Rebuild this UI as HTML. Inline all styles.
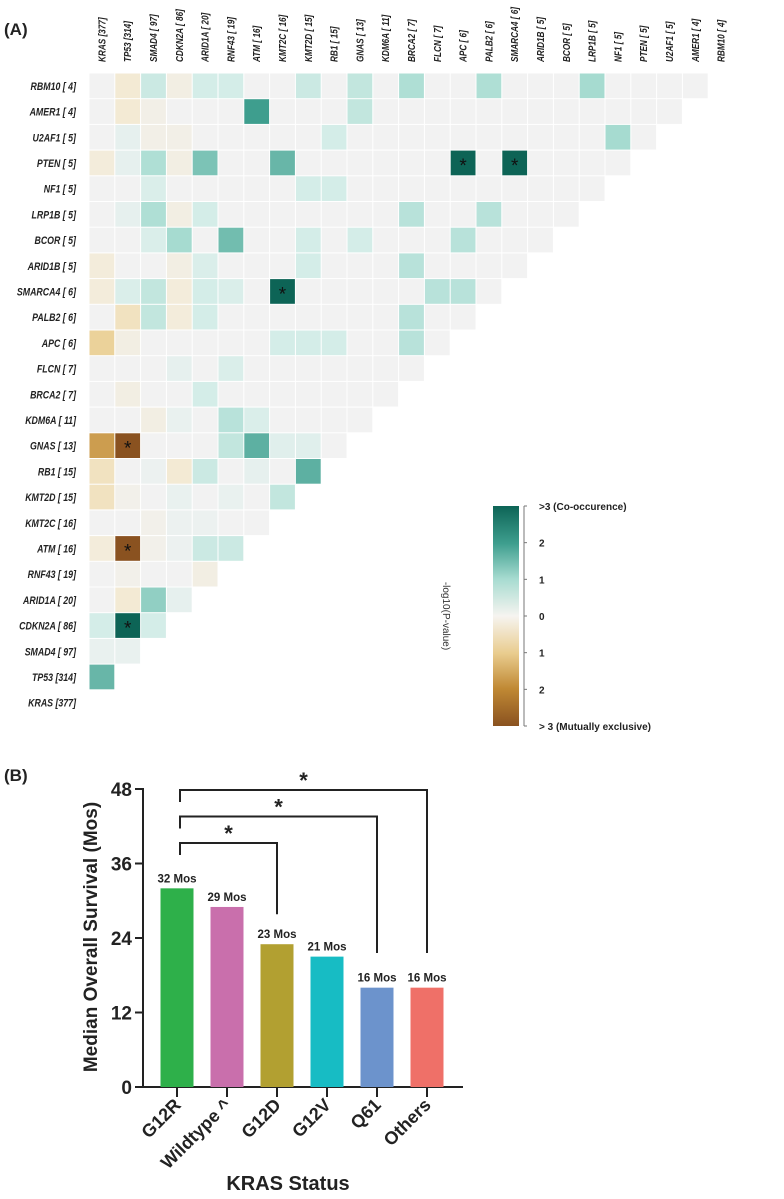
<!DOCTYPE html>
<html><head><meta charset="utf-8"><style>
html,body{margin:0;padding:0;background:#fff;}
svg{display:block;font-family:"Liberation Sans",sans-serif;}
.cl{font-family:"Liberation Sans Narrow","Liberation Sans",sans-serif;font-size:10.5px;font-weight:bold;font-style:italic;fill:#222;}
.rl{font-family:"Liberation Sans Narrow","Liberation Sans",sans-serif;font-size:11px;font-weight:bold;font-style:italic;fill:#222;}
</style></head><body>
<svg id="fig" width="784" height="1199" viewBox="0 0 784 1199">
<defs>
<linearGradient id="cbar" x1="0" y1="0" x2="0" y2="1">
<stop offset="0" stop-color="#0d6456"/><stop offset="0.17" stop-color="#3e9e8e"/><stop offset="0.33" stop-color="#a6dbd0"/><stop offset="0.5" stop-color="#f6f4f0"/><stop offset="0.67" stop-color="#e9cc8e"/><stop offset="0.83" stop-color="#c08934"/><stop offset="1" stop-color="#8a5220"/>
</linearGradient>
</defs>
<text x="4" y="35" font-size="17" font-weight="bold" fill="#222">(A)</text>
<g id="heat"></g>
<g>
<rect x="493" y="506" width="26" height="220" fill="url(#cbar)"/>
<line x1="524" y1="506" x2="524" y2="726" stroke="#777" stroke-width="1"/>
<g id="cbticks"></g>
<text transform="translate(443,616) rotate(90)" text-anchor="middle" font-size="10" fill="#333">-log10(P-value)</text>
</g>
<text x="4" y="781" font-size="17" font-weight="bold" fill="#222">(B)</text>
<g id="bars"></g>
</svg>
<script>
const genes = ["KRAS [377]","TP53 [314]","SMAD4 [ 97]","CDKN2A [ 86]","ARID1A [ 20]","RNF43 [ 19]","ATM [ 16]","KMT2C [ 16]","KMT2D [ 15]","RB1 [ 15]","GNAS [ 13]","KDM6A [ 11]","BRCA2 [ 7]","FLCN [ 7]","APC [ 6]","PALB2 [ 6]","SMARCA4 [ 6]","ARID1B [ 5]","BCOR [ 5]","LRP1B [ 5]","NF1 [ 5]","PTEN [ 5]","U2AF1 [ 5]","AMER1 [ 4]","RBM10 [ 4]"];
const rowRBM10  = [0,-0.4,0.6,-0.2,0.5,0.5,0,0,0.6,0,0.7,0,0.9,0,0,0.9,0,0,0,1.0,0,0,0,0];
const rowAMER1  = [0,-0.4,-0.15,0,0,0,2.0,0,0,0,0.7,0,0,0,0,0,0,0,0,0,0,0,0];
const rowU2AF1  = [0,0.2,-0.15,-0.15,0,0,0,0,0,0.5,0,0,0,0,0,0,0,0,0,0,1.0,0];
const rowPTEN   = [-0.3,0.2,0.9,-0.2,1.4,0,0,1.6,0,0,0,0,0,0,3,0,3,0,0,0,0];
const rowNF1    = [0,0,0.4,0,0,0,0,0,0.5,0.5,0,0,0,0,0,0,0,0,0,0];
const rowLRP1B  = [0,0.2,0.9,-0.2,0.5,0,0,0,0,0,0,0,0.8,0,0,0.8,0,0,0];
const rowBCOR   = [0,0,0.4,1.0,0,1.5,0,0,0.5,0,0.5,0,0,0,0.8,0,0,0];
const rowARID1B = [-0.3,0,0,-0.2,0.4,0,0,0,0.5,0,0,0,0.8,0,0,0,0];
const rowSMARCA4= [-0.3,0.4,0.7,-0.3,0.5,0.4,0,3,0,0,0,0,0,0.8,0.8,0];
const rowPALB2  = [0,-0.6,0.7,-0.3,0.5,0,0,0,0,0,0,0,0.8,0,0];
const rowAPC    = [-0.9,-0.2,0,0,0,0,0,0.5,0.5,0.5,0,0,0.8,0];
const rowFLCN   = [0,0,0,0.2,0,0.4,0,0,0,0,0,0,0];
const rowBRCA2  = [0,-0.2,0,0,0.5,0,0,0,0,0,0,0];
const rowKDM6A  = [0,0,-0.2,0.15,0,0.8,0.4,0,0,0,0];
const rowGNAS   = [-1.7,-3,0,0,0,0.7,1.7,0.3,0.3,0];
const rowRB1    = [-0.6,0,0.1,-0.4,0.6,0,0.2,0,1.7];
const rowKMT2D  = [-0.6,-0.1,0,0.15,0,0.15,0,0.7];
const rowKMT2C  = [0,0,-0.1,0.1,0.1,0,0];
const rowATM    = [-0.3,-3,-0.1,0.1,0.6,0.6];
const rowRNF43  = [0,-0.1,0,0,-0.2];
const rowARID1A = [0,-0.4,1.2,0.2];
const rowCDKN2A = [0.5,3,0.5];
const rowSMAD4  = [0.15,0.15];
const rowTP53   = [1.6];
const rowKRAS   = [];
const rows = [rowRBM10,rowAMER1,rowU2AF1,rowPTEN,rowNF1,rowLRP1B,rowBCOR,rowARID1B,rowSMARCA4,rowPALB2,rowAPC,rowFLCN,rowBRCA2,rowKDM6A,rowGNAS,rowRB1,rowKMT2D,rowKMT2C,rowATM,rowRNF43,rowARID1A,rowCDKN2A,rowSMAD4,rowTP53,rowKRAS];
const sigThreshold = 2.5;
const cbTickLabels = [">3 (Co-occurence)","2","1","0","1","2","> 3 (Mutually exclusive)"];
const cbTickValues = [3,2,1,0,-1,-2,-3];

const categories = ["G12R","Wildtype ^","G12D","G12V","Q61","Others"];
const survival = [32,29,23,21,16,16];
const barColors = ["#2eb04a","#c96fac","#b2a031","#17bcc4","#6c93cc","#ef7068"];
const yTicks = [0,12,24,36,48];
const comparisons = [[0,2],[0,4],[0,5]];

const NS="http://www.w3.org/2000/svg";
function mk(tag,attrs,parent){const e=document.createElementNS(NS,tag);for(const k in attrs)e.setAttribute(k,attrs[k]);parent.appendChild(e);return e;}
function hex(h){return [1,3,5].map(i=>parseInt(h.substr(i,2),16));}
function lerp(a,b,t){const A=hex(a),B=hex(b);return "rgb("+A.map((v,i)=>Math.round(v+(B[i]-v)*t)).join(",")+")";}
const pos=[["#f2f2f2",0],["#d4ede8",0.5],["#a6dbd0",1],["#3e9e8e",2],["#0d6456",3]];
const neg=[["#f2f2f2",0],["#f3e8cc",0.5],["#e9cc8e",1],["#c08934",2],["#8a5220",3]];
function color(v){const s=v>=0?pos:neg;const a=Math.min(Math.abs(v),3);for(let i=1;i<s.length;i++){if(a<=s[i][1]){return lerp(s[i-1][0],s[i][0],(a-s[i-1][1])/(s[i][1]-s[i-1][1]));}}return s[s.length-1][0];}

const heat=document.getElementById('heat');
const X0=89,CW=25.8,Y0=73,RH=25.7;
const colX=j=>X0+j*CW, rowY=i=>Y0+i*RH;
genes.forEach((g,j)=>{
  const t=mk('text',{class:'cl',transform:`translate(${colX(j)+CW/2+3.5},62) rotate(-90) scale(0.78,1)`},heat);
  
  
  t.textContent=g;
});
rows.forEach((r,i)=>{
  const name=genes[genes.length-1-i];
  const t=mk('text',{class:'rl',transform:`translate(76,${rowY(i)+RH/2+4}) scale(0.8,1)`,'text-anchor':'end'},heat);
  
  
  t.textContent=name;
  r.forEach((v,j)=>{
    const c=mk('rect',{x:colX(j)+0.5,y:rowY(i)+0.5,width:CW-1,height:RH-1,fill:color(v)},heat);
    
    
    if(Math.abs(v)>=sigThreshold){
      const s=mk('text',{x:colX(j)+CW/2,y:rowY(i)+RH/2+9,'text-anchor':'middle','font-size':'19',fill:'#111'},heat);
      
      
      s.textContent='*';
    }
  });
});
const cbt=document.getElementById('cbticks');
const cbY=v=>616-v*36.67;
cbTickValues.forEach((v,i)=>{
  mk('line',{x1:524,x2:527,y1:cbY(v),y2:cbY(v),stroke:'#777'},cbt);
  const t=mk('text',{x:539,y:cbY(v)+4,'font-size':'10','font-weight':'bold',fill:'#222'},cbt);
  
  
  t.textContent=cbTickLabels[i];
});

const bars=document.getElementById('bars');
const yS=v=>1087-v*(298/48);
const xC=i=>177+i*50;
mk('line',{x1:143,x2:143,y1:788,y2:1088,stroke:'#222','stroke-width':2},bars);
mk('line',{x1:142,x2:463,y1:1087,y2:1087,stroke:'#222','stroke-width':2},bars);
yTicks.forEach(v=>{
  mk('line',{x1:135,x2:143,y1:yS(v),y2:yS(v),stroke:'#222','stroke-width':2},bars);
  const t=mk('text',{x:132,y:yS(v)+7,'text-anchor':'end','font-size':'19','font-weight':'bold',fill:'#222'},bars);
  
  
  t.textContent=v;
});
categories.forEach((c,i)=>{
  const x=xC(i);
  const r=mk('rect',{x:x-16.5,y:yS(survival[i]),width:33,height:yS(0)-yS(survival[i]),fill:barColors[i]},bars);
  
  
  const lab=mk('text',{x:x,y:yS(survival[i])-6,'text-anchor':'middle','font-size':'11.5','font-weight':'bold',fill:'#222'},bars);
  
  
  lab.textContent=survival[i]+' Mos';
  mk('line',{x1:x,x2:x,y1:1087,y2:1097,stroke:'#222','stroke-width':2},bars);
  const t=mk('text',{transform:`translate(${x+5},1106) rotate(-45)`,'text-anchor':'end','font-size':'18','font-weight':'bold',fill:'#222'},bars);
  
  
  t.textContent=c;
});
comparisons.forEach((p,k)=>{
  const top=843-k*26.5, xl=xC(p[0])+3, xr=xC(p[1]);
  const rEnd=k===0?yS(survival[p[1]])-30:953;
  const pl=mk('polyline',{points:`${xl},${top+12} ${xl},${top} ${xr},${top} ${xr},${rEnd}`,fill:'none',stroke:'#222','stroke-width':2},bars);
  
  
  const s=mk('text',{x:(xl+xr)/2,y:top-2,'text-anchor':'middle','font-size':'22','font-weight':'bold',fill:'#222'},bars);
  
  
  s.textContent='*';
});
const yt=mk('text',{transform:'translate(97,937) rotate(-90)','text-anchor':'middle','font-size':'19','font-weight':'bold',fill:'#222'},bars);


yt.textContent='Median Overall Survival (Mos)';
const xt=mk('text',{x:288,y:1190,'text-anchor':'middle','font-size':'20','font-weight':'bold',fill:'#222'},bars);


xt.textContent='KRAS Status';
</script>
</body></html>
